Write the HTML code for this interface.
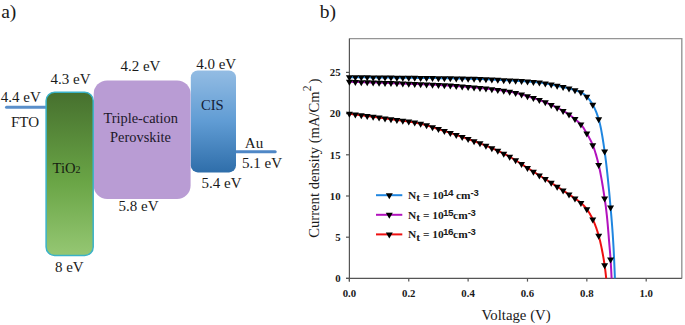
<!DOCTYPE html>
<html><head><meta charset="utf-8"><style>
html,body{margin:0;padding:0;background:#fff;}
svg{display:block;}
text{font-family:"Liberation Serif", serif;}
</style></head><body>
<svg width="685" height="325" viewBox="0 0 685 325">
<defs>
<linearGradient id="gT" x1="0" y1="0" x2="0" y2="1">
<stop offset="0" stop-color="#46702e"/><stop offset="0.55" stop-color="#6aa546"/><stop offset="1" stop-color="#95c773"/>
</linearGradient>
<linearGradient id="gC" x1="0" y1="0" x2="0" y2="1">
<stop offset="0" stop-color="#93bce3"/><stop offset="0.5" stop-color="#609cd4"/><stop offset="1" stop-color="#2f6eaa"/>
</linearGradient>
<path id="tri" d="M-3.5,-2 L3.5,-2 L0,4 Z" fill="#000"/>
</defs>
<g fill="#1a1a1a" font-size="19.5"><text x="1.2" y="18.2">a)</text><text x="319.8" y="18.4">b)</text></g>
<!-- band diagram -->
<line x1="6.5" y1="107.3" x2="47" y2="107.3" stroke="#5a8fca" stroke-width="3" stroke-linecap="round"/>
<line x1="236" y1="151.8" x2="275.2" y2="151.8" stroke="#4f87c6" stroke-width="3" stroke-linecap="round"/>
<rect x="93.7" y="80.4" width="96.9" height="118.6" rx="13.5" fill="#b99cd4"/>
<rect x="46.1" y="92.2" width="47.1" height="163.2" rx="8.5" fill="url(#gT)" stroke="#3ab2c8" stroke-width="1.5"/>
<rect x="190.8" y="70.5" width="45.2" height="101.9" rx="7" fill="url(#gC)"/>
<g font-size="15" fill="#1a1a1a">
<text x="0.8" y="101.6">4.4 eV</text>
<text x="11" y="126.5">FTO</text>
<text x="50.5" y="83.7">4.3 eV</text>
<text x="54.9" y="272">8 eV</text>
<text x="120.4" y="71">4.2 eV</text>
<text x="118.5" y="211.3">5.8 eV</text>
<text x="196.2" y="68.5">4.0 eV</text>
<text x="201.6" y="188">5.4 eV</text>
<text x="242.1" y="168.2">5.1 eV</text>
<text x="244.8" y="147.9">Au</text>
</g>
<text x="52.6" y="172.6" font-size="14.6" fill="#152010">TiO<tspan font-size="10" dy="0.6">2</tspan></text>
<g font-size="14.4" fill="#20182a" text-anchor="middle">
<text x="140.7" y="122.9">Triple-cation</text>
<text x="140.5" y="141.5">Perovskite</text>
</g>
<text x="212.3" y="109.7" font-size="14.6" fill="#142036" text-anchor="middle">CIS</text>
<!-- chart -->
<path d="M349.4,38.6 H681.8 V278.4" fill="none" stroke="#959595" stroke-width="1.4"/>
<g stroke="#555" stroke-width="1.2">
<line x1="349.4" y1="38.6" x2="349.4" y2="281.6"/><line x1="346" y1="278.4" x2="681.8" y2="278.4"/>
<line x1="349.40" y1="278.4" x2="349.40" y2="281.6"/><line x1="408.76" y1="278.4" x2="408.76" y2="281.6"/><line x1="468.12" y1="278.4" x2="468.12" y2="281.6"/><line x1="527.48" y1="278.4" x2="527.48" y2="281.6"/><line x1="586.84" y1="278.4" x2="586.84" y2="281.6"/><line x1="646.20" y1="278.4" x2="646.20" y2="281.6"/><line x1="346" y1="278.40" x2="349.4" y2="278.40"/><line x1="346" y1="237.20" x2="349.4" y2="237.20"/><line x1="346" y1="196.00" x2="349.4" y2="196.00"/><line x1="346" y1="154.80" x2="349.4" y2="154.80"/><line x1="346" y1="113.60" x2="349.4" y2="113.60"/><line x1="346" y1="72.40" x2="349.4" y2="72.40"/>
</g>
<g font-size="10.8" font-weight="bold" fill="#1a1a1a" text-anchor="middle"><text x="349.40" y="297">0.0</text><text x="408.76" y="297">0.2</text><text x="468.12" y="297">0.4</text><text x="527.48" y="297">0.6</text><text x="586.84" y="297">0.8</text><text x="646.20" y="297">1.0</text></g>
<g font-size="10.8" font-weight="bold" fill="#1a1a1a" text-anchor="end"><text x="340.6" y="282.10">0</text><text x="340.6" y="240.90">5</text><text x="340.6" y="199.70">10</text><text x="340.6" y="158.50">15</text><text x="340.6" y="117.30">20</text><text x="340.6" y="76.10">25</text></g>
<text x="516.1" y="319.7" font-size="14.8" fill="#1a1a1a" text-anchor="middle">Voltage (V)</text>
<g fill="#1a1a1a"><text transform="translate(319,237.8) rotate(-90)" font-size="14.66">Current density (mA/Cm</text><text transform="translate(311.4,91.2) rotate(-90)" font-size="11.5">2</text><text transform="translate(319,83.6) rotate(-90)" font-size="15">)</text></g>
<path d="M349.40,113.80 L349.83,113.85 L350.26,113.90 L350.69,113.95 L351.11,114.01 L351.54,114.06 L351.97,114.11 L352.40,114.16 L352.83,114.21 L353.26,114.26 L353.69,114.32 L354.12,114.37 L354.54,114.42 L354.97,114.47 L355.40,114.53 L355.83,114.58 L356.26,114.63 L356.69,114.68 L357.12,114.74 L357.55,114.79 L357.97,114.84 L358.40,114.90 L358.83,114.95 L359.26,115.00 L359.69,115.06 L360.12,115.11 L360.55,115.16 L360.98,115.22 L361.40,115.27 L361.83,115.33 L362.26,115.38 L362.69,115.43 L363.12,115.49 L363.55,115.54 L363.98,115.60 L364.41,115.65 L364.83,115.71 L365.26,115.76 L365.69,115.82 L366.12,115.87 L366.55,115.93 L366.98,115.98 L367.41,116.04 L367.83,116.09 L368.26,116.15 L368.69,116.20 L369.12,116.26 L369.55,116.31 L369.98,116.37 L370.41,116.43 L370.84,116.48 L371.26,116.54 L371.69,116.59 L372.12,116.65 L372.55,116.71 L372.98,116.76 L373.41,116.82 L373.84,116.88 L374.27,116.93 L374.69,116.99 L375.12,117.05 L375.55,117.10 L375.98,117.16 L376.41,117.22 L376.84,117.27 L377.27,117.33 L377.70,117.39 L378.12,117.45 L378.55,117.50 L378.98,117.56 L379.41,117.62 L379.84,117.68 L380.27,117.73 L380.70,117.79 L381.12,117.85 L381.55,117.91 L381.98,117.97 L382.41,118.02 L382.84,118.08 L383.27,118.14 L383.70,118.20 L384.13,118.26 L384.55,118.32 L384.98,118.38 L385.41,118.43 L385.84,118.49 L386.27,118.55 L386.70,118.61 L387.13,118.67 L387.56,118.73 L387.98,118.79 L388.41,118.85 L388.84,118.91 L389.27,118.96 L389.70,119.02 L390.13,119.08 L390.56,119.14 L390.99,119.20 L391.41,119.25 L391.84,119.31 L392.27,119.37 L392.70,119.42 L393.13,119.48 L393.56,119.54 L393.99,119.59 L394.42,119.65 L394.84,119.70 L395.27,119.76 L395.70,119.82 L396.13,119.87 L396.56,119.93 L396.99,119.98 L397.42,120.04 L397.84,120.09 L398.27,120.15 L398.70,120.21 L399.13,120.26 L399.56,120.32 L399.99,120.37 L400.42,120.43 L400.85,120.49 L401.27,120.54 L401.70,120.60 L402.13,120.66 L402.56,120.72 L402.99,120.77 L403.42,120.83 L403.85,120.89 L404.28,120.95 L404.70,121.01 L405.13,121.07 L405.56,121.13 L405.99,121.19 L406.42,121.25 L406.85,121.32 L407.28,121.38 L407.71,121.44 L408.13,121.51 L408.56,121.57 L408.99,121.63 L409.42,121.70 L409.85,121.77 L410.28,121.83 L410.71,121.90 L411.13,121.97 L411.56,122.04 L411.99,122.11 L412.42,122.18 L412.85,122.26 L413.28,122.33 L413.71,122.40 L414.14,122.48 L414.56,122.55 L414.99,122.63 L415.42,122.71 L415.85,122.79 L416.28,122.87 L416.71,122.95 L417.14,123.03 L417.57,123.11 L417.99,123.20 L418.42,123.29 L418.85,123.37 L419.28,123.47 L419.71,123.56 L420.14,123.66 L420.57,123.76 L421.00,123.86 L421.42,123.96 L421.85,124.07 L422.28,124.18 L422.71,124.29 L423.14,124.40 L423.57,124.51 L424.00,124.63 L424.43,124.74 L424.85,124.86 L425.28,124.99 L425.71,125.11 L426.14,125.23 L426.57,125.36 L427.00,125.48 L427.43,125.61 L427.85,125.74 L428.28,125.87 L428.71,126.00 L429.14,126.13 L429.57,126.27 L430.00,126.40 L430.43,126.54 L430.86,126.67 L431.28,126.81 L431.71,126.94 L432.14,127.08 L432.57,127.22 L433.00,127.36 L433.43,127.50 L433.86,127.63 L434.29,127.77 L434.71,127.91 L435.14,128.05 L435.57,128.19 L436.00,128.33 L436.43,128.47 L436.86,128.60 L437.29,128.74 L437.72,128.88 L438.14,129.02 L438.57,129.15 L439.00,129.29 L439.43,129.42 L439.86,129.56 L440.29,129.69 L440.72,129.82 L441.14,129.96 L441.57,130.09 L442.00,130.23 L442.43,130.36 L442.86,130.50 L443.29,130.64 L443.72,130.78 L444.15,130.91 L444.57,131.05 L445.00,131.19 L445.43,131.33 L445.86,131.47 L446.29,131.61 L446.72,131.75 L447.15,131.89 L447.58,132.03 L448.00,132.17 L448.43,132.31 L448.86,132.46 L449.29,132.60 L449.72,132.74 L450.15,132.88 L450.58,133.03 L451.01,133.17 L451.43,133.32 L451.86,133.46 L452.29,133.61 L452.72,133.75 L453.15,133.90 L453.58,134.04 L454.01,134.19 L454.44,134.33 L454.86,134.48 L455.29,134.63 L455.72,134.77 L456.15,134.92 L456.58,135.07 L457.01,135.22 L457.44,135.37 L457.86,135.51 L458.29,135.66 L458.72,135.81 L459.15,135.96 L459.58,136.11 L460.01,136.26 L460.44,136.41 L460.87,136.55 L461.29,136.70 L461.72,136.85 L462.15,137.00 L462.58,137.15 L463.01,137.30 L463.44,137.45 L463.87,137.60 L464.30,137.75 L464.72,137.90 L465.15,138.05 L465.58,138.20 L466.01,138.35 L466.44,138.50 L466.87,138.65 L467.30,138.80 L467.73,138.95 L468.15,139.10 L468.58,139.25 L469.01,139.40 L469.44,139.55 L469.87,139.70 L470.30,139.85 L470.73,140.00 L471.15,140.15 L471.58,140.30 L472.01,140.45 L472.44,140.60 L472.87,140.76 L473.30,140.91 L473.73,141.06 L474.16,141.22 L474.58,141.37 L475.01,141.52 L475.44,141.68 L475.87,141.83 L476.30,141.99 L476.73,142.15 L477.16,142.30 L477.59,142.46 L478.01,142.62 L478.44,142.78 L478.87,142.94 L479.30,143.10 L479.73,143.26 L480.16,143.42 L480.59,143.59 L481.02,143.75 L481.44,143.91 L481.87,144.08 L482.30,144.24 L482.73,144.41 L483.16,144.58 L483.59,144.75 L484.02,144.92 L484.45,145.09 L484.87,145.26 L485.30,145.43 L485.73,145.61 L486.16,145.78 L486.59,145.96 L487.02,146.14 L487.45,146.31 L487.87,146.49 L488.30,146.67 L488.73,146.85 L489.16,147.03 L489.59,147.21 L490.02,147.39 L490.45,147.57 L490.88,147.76 L491.30,147.94 L491.73,148.13 L492.16,148.31 L492.59,148.50 L493.02,148.68 L493.45,148.87 L493.88,149.06 L494.31,149.25 L494.73,149.44 L495.16,149.63 L495.59,149.82 L496.02,150.02 L496.45,150.21 L496.88,150.41 L497.31,150.60 L497.74,150.80 L498.16,151.00 L498.59,151.20 L499.02,151.40 L499.45,151.60 L499.88,151.80 L500.31,152.01 L500.74,152.21 L501.16,152.42 L501.59,152.62 L502.02,152.83 L502.45,153.04 L502.88,153.25 L503.31,153.46 L503.74,153.68 L504.17,153.89 L504.59,154.11 L505.02,154.32 L505.45,154.54 L505.88,154.76 L506.31,154.98 L506.74,155.20 L507.17,155.42 L507.60,155.65 L508.02,155.87 L508.45,156.10 L508.88,156.33 L509.31,156.56 L509.74,156.79 L510.17,157.03 L510.60,157.27 L511.03,157.51 L511.45,157.76 L511.88,158.01 L512.31,158.26 L512.74,158.51 L513.17,158.77 L513.60,159.03 L514.03,159.29 L514.46,159.55 L514.88,159.82 L515.31,160.08 L515.74,160.35 L516.17,160.62 L516.60,160.90 L517.03,161.17 L517.46,161.45 L517.88,161.72 L518.31,162.00 L518.74,162.28 L519.17,162.56 L519.60,162.84 L520.03,163.12 L520.46,163.40 L520.89,163.68 L521.31,163.96 L521.74,164.24 L522.17,164.52 L522.60,164.81 L523.03,165.09 L523.46,165.37 L523.89,165.65 L524.32,165.93 L524.74,166.21 L525.17,166.49 L525.60,166.76 L526.03,167.04 L526.46,167.31 L526.89,167.59 L527.32,167.86 L527.75,168.13 L528.17,168.40 L528.60,168.67 L529.03,168.94 L529.46,169.21 L529.89,169.47 L530.32,169.74 L530.75,170.01 L531.17,170.28 L531.60,170.55 L532.03,170.82 L532.46,171.09 L532.89,171.35 L533.32,171.62 L533.75,171.89 L534.18,172.16 L534.60,172.43 L535.03,172.69 L535.46,172.96 L535.89,173.23 L536.32,173.50 L536.75,173.77 L537.18,174.03 L537.61,174.30 L538.03,174.57 L538.46,174.84 L538.89,175.11 L539.32,175.38 L539.75,175.64 L540.18,175.91 L540.61,176.18 L541.04,176.45 L541.46,176.72 L541.89,176.99 L542.32,177.25 L542.75,177.52 L543.18,177.79 L543.61,178.06 L544.04,178.33 L544.47,178.60 L544.89,178.87 L545.32,179.14 L545.75,179.41 L546.18,179.68 L546.61,179.95 L547.04,180.22 L547.47,180.49 L547.89,180.76 L548.32,181.03 L548.75,181.30 L549.18,181.58 L549.61,181.85 L550.04,182.12 L550.47,182.39 L550.90,182.66 L551.32,182.94 L551.75,183.21 L552.18,183.48 L552.61,183.76 L553.04,184.03 L553.47,184.30 L553.90,184.58 L554.33,184.85 L554.75,185.13 L555.18,185.40 L555.61,185.68 L556.04,185.96 L556.47,186.23 L556.90,186.51 L557.33,186.79 L557.76,187.07 L558.18,187.34 L558.61,187.62 L559.04,187.90 L559.47,188.18 L559.90,188.46 L560.33,188.73 L560.76,189.01 L561.18,189.29 L561.61,189.57 L562.04,189.85 L562.47,190.13 L562.90,190.41 L563.33,190.70 L563.76,190.98 L564.19,191.26 L564.61,191.55 L565.04,191.83 L565.47,192.12 L565.90,192.40 L566.33,192.69 L566.76,192.98 L567.19,193.27 L567.62,193.56 L568.04,193.85 L568.47,194.14 L568.90,194.43 L569.33,194.73 L569.76,195.02 L570.19,195.30 L570.62,195.59 L571.05,195.87 L571.47,196.15 L571.90,196.43 L572.33,196.71 L572.76,196.99 L573.19,197.27 L573.62,197.55 L574.05,197.83 L574.48,198.12 L574.90,198.40 L575.33,198.69 L575.76,198.98 L576.19,199.28 L576.62,199.58 L577.05,199.88 L577.48,200.19 L577.90,200.50 L578.33,200.82 L578.76,201.15 L579.19,201.48 L579.62,201.82 L580.05,202.17 L580.48,202.53 L580.91,202.89 L581.33,203.26 L581.76,203.65 L582.19,204.04 L582.62,204.45 L583.05,204.87 L583.48,205.31 L583.91,205.76 L584.34,206.22 L584.76,206.70 L585.19,207.20 L585.62,207.71 L586.05,208.23 L586.48,208.78 L586.91,209.34 L587.34,209.91 L587.77,210.51 L588.19,211.13 L588.62,211.78 L589.05,212.46 L589.48,213.16 L589.91,213.88 L590.34,214.63 L590.77,215.41 L591.19,216.21 L591.62,217.03 L592.05,217.89 L592.48,218.77 L592.91,219.67 L593.34,220.60 L593.77,221.57 L594.20,222.57 L594.62,223.61 L595.05,224.69 L595.48,225.81 L595.91,226.98 L596.34,228.19 L596.77,229.46 L597.20,230.77 L597.63,232.13 L598.05,233.55 L598.48,235.03 L598.91,236.57 L599.34,238.17 L599.77,239.85 L600.20,241.61 L600.63,243.45 L601.06,245.38 L601.48,247.39 L601.91,249.49 L602.34,251.69 L602.77,253.99 L603.20,256.39 L603.63,258.89 L604.06,261.50 L604.49,264.22 L604.91,267.16 L605.34,270.63 L605.77,274.45 L606.20,278.40" fill="none" stroke="#ee1010" stroke-width="2" stroke-linejoin="round"/><path d="M349.40,81.80 L349.84,81.81 L350.28,81.82 L350.71,81.83 L351.15,81.85 L351.59,81.86 L352.03,81.87 L352.46,81.88 L352.90,81.89 L353.34,81.90 L353.78,81.92 L354.22,81.93 L354.65,81.94 L355.09,81.95 L355.53,81.96 L355.97,81.98 L356.40,81.99 L356.84,82.00 L357.28,82.01 L357.72,82.02 L358.15,82.04 L358.59,82.05 L359.03,82.06 L359.47,82.07 L359.91,82.09 L360.34,82.10 L360.78,82.11 L361.22,82.12 L361.66,82.14 L362.09,82.15 L362.53,82.16 L362.97,82.18 L363.41,82.19 L363.85,82.20 L364.28,82.21 L364.72,82.23 L365.16,82.24 L365.60,82.25 L366.03,82.27 L366.47,82.28 L366.91,82.29 L367.35,82.31 L367.78,82.32 L368.22,82.33 L368.66,82.35 L369.10,82.36 L369.54,82.38 L369.97,82.39 L370.41,82.40 L370.85,82.42 L371.29,82.43 L371.72,82.44 L372.16,82.46 L372.60,82.47 L373.04,82.49 L373.48,82.50 L373.91,82.51 L374.35,82.53 L374.79,82.54 L375.23,82.56 L375.66,82.57 L376.10,82.58 L376.54,82.60 L376.98,82.61 L377.41,82.63 L377.85,82.64 L378.29,82.66 L378.73,82.67 L379.17,82.69 L379.60,82.70 L380.04,82.72 L380.48,82.73 L380.92,82.74 L381.35,82.76 L381.79,82.77 L382.23,82.79 L382.67,82.80 L383.11,82.82 L383.54,82.83 L383.98,82.85 L384.42,82.86 L384.86,82.88 L385.29,82.89 L385.73,82.91 L386.17,82.92 L386.61,82.94 L387.04,82.95 L387.48,82.97 L387.92,82.99 L388.36,83.00 L388.80,83.02 L389.23,83.03 L389.67,83.05 L390.11,83.06 L390.55,83.08 L390.98,83.09 L391.42,83.11 L391.86,83.13 L392.30,83.14 L392.74,83.16 L393.17,83.17 L393.61,83.19 L394.05,83.20 L394.49,83.22 L394.92,83.24 L395.36,83.25 L395.80,83.27 L396.24,83.28 L396.67,83.30 L397.11,83.32 L397.55,83.33 L397.99,83.35 L398.43,83.36 L398.86,83.38 L399.30,83.40 L399.74,83.41 L400.18,83.43 L400.61,83.44 L401.05,83.46 L401.49,83.48 L401.93,83.49 L402.37,83.51 L402.80,83.53 L403.24,83.54 L403.68,83.56 L404.12,83.58 L404.55,83.59 L404.99,83.61 L405.43,83.63 L405.87,83.64 L406.30,83.66 L406.74,83.68 L407.18,83.69 L407.62,83.71 L408.06,83.73 L408.49,83.74 L408.93,83.76 L409.37,83.78 L409.81,83.79 L410.24,83.81 L410.68,83.83 L411.12,83.84 L411.56,83.86 L412.00,83.88 L412.43,83.89 L412.87,83.91 L413.31,83.93 L413.75,83.94 L414.18,83.96 L414.62,83.98 L415.06,83.99 L415.50,84.01 L415.93,84.03 L416.37,84.05 L416.81,84.06 L417.25,84.08 L417.69,84.10 L418.12,84.11 L418.56,84.13 L419.00,84.15 L419.44,84.17 L419.87,84.18 L420.31,84.20 L420.75,84.22 L421.19,84.23 L421.63,84.25 L422.06,84.27 L422.50,84.29 L422.94,84.30 L423.38,84.32 L423.81,84.34 L424.25,84.36 L424.69,84.38 L425.13,84.39 L425.56,84.41 L426.00,84.43 L426.44,84.45 L426.88,84.47 L427.32,84.48 L427.75,84.50 L428.19,84.52 L428.63,84.54 L429.07,84.56 L429.50,84.58 L429.94,84.60 L430.38,84.61 L430.82,84.63 L431.26,84.65 L431.69,84.67 L432.13,84.69 L432.57,84.71 L433.01,84.73 L433.44,84.75 L433.88,84.77 L434.32,84.79 L434.76,84.81 L435.19,84.83 L435.63,84.85 L436.07,84.87 L436.51,84.89 L436.95,84.91 L437.38,84.93 L437.82,84.95 L438.26,84.97 L438.70,85.00 L439.13,85.02 L439.57,85.04 L440.01,85.06 L440.45,85.08 L440.89,85.10 L441.32,85.13 L441.76,85.15 L442.20,85.17 L442.64,85.19 L443.07,85.22 L443.51,85.24 L443.95,85.26 L444.39,85.29 L444.83,85.31 L445.26,85.33 L445.70,85.36 L446.14,85.38 L446.58,85.40 L447.01,85.43 L447.45,85.45 L447.89,85.48 L448.33,85.50 L448.76,85.53 L449.20,85.55 L449.64,85.58 L450.08,85.60 L450.52,85.63 L450.95,85.66 L451.39,85.68 L451.83,85.71 L452.27,85.74 L452.70,85.76 L453.14,85.79 L453.58,85.82 L454.02,85.85 L454.46,85.88 L454.89,85.91 L455.33,85.93 L455.77,85.96 L456.21,85.99 L456.64,86.02 L457.08,86.05 L457.52,86.08 L457.96,86.11 L458.39,86.14 L458.83,86.18 L459.27,86.21 L459.71,86.24 L460.15,86.27 L460.58,86.30 L461.02,86.33 L461.46,86.37 L461.90,86.40 L462.33,86.43 L462.77,86.47 L463.21,86.50 L463.65,86.53 L464.09,86.57 L464.52,86.60 L464.96,86.64 L465.40,86.67 L465.84,86.71 L466.27,86.74 L466.71,86.78 L467.15,86.81 L467.59,86.85 L468.02,86.89 L468.46,86.92 L468.90,86.96 L469.34,87.00 L469.78,87.03 L470.21,87.07 L470.65,87.11 L471.09,87.15 L471.53,87.19 L471.96,87.22 L472.40,87.26 L472.84,87.30 L473.28,87.34 L473.72,87.38 L474.15,87.42 L474.59,87.46 L475.03,87.50 L475.47,87.54 L475.90,87.58 L476.34,87.62 L476.78,87.66 L477.22,87.70 L477.65,87.74 L478.09,87.79 L478.53,87.83 L478.97,87.87 L479.41,87.91 L479.84,87.95 L480.28,88.00 L480.72,88.04 L481.16,88.08 L481.59,88.13 L482.03,88.17 L482.47,88.21 L482.91,88.26 L483.35,88.30 L483.78,88.35 L484.22,88.39 L484.66,88.44 L485.10,88.48 L485.53,88.53 L485.97,88.57 L486.41,88.62 L486.85,88.66 L487.28,88.71 L487.72,88.76 L488.16,88.80 L488.60,88.85 L489.04,88.90 L489.47,88.94 L489.91,88.99 L490.35,89.04 L490.79,89.09 L491.22,89.13 L491.66,89.18 L492.10,89.23 L492.54,89.28 L492.98,89.33 L493.41,89.38 L493.85,89.43 L494.29,89.48 L494.73,89.53 L495.16,89.58 L495.60,89.64 L496.04,89.69 L496.48,89.74 L496.91,89.80 L497.35,89.85 L497.79,89.91 L498.23,89.96 L498.67,90.02 L499.10,90.07 L499.54,90.13 L499.98,90.19 L500.42,90.25 L500.85,90.31 L501.29,90.37 L501.73,90.43 L502.17,90.49 L502.61,90.55 L503.04,90.61 L503.48,90.68 L503.92,90.74 L504.36,90.81 L504.79,90.87 L505.23,90.94 L505.67,91.01 L506.11,91.08 L506.54,91.15 L506.98,91.22 L507.42,91.29 L507.86,91.36 L508.30,91.43 L508.73,91.51 L509.17,91.58 L509.61,91.66 L510.05,91.74 L510.48,91.81 L510.92,91.89 L511.36,91.97 L511.80,92.06 L512.24,92.14 L512.67,92.23 L513.11,92.32 L513.55,92.41 L513.99,92.51 L514.42,92.61 L514.86,92.71 L515.30,92.81 L515.74,92.91 L516.17,93.02 L516.61,93.13 L517.05,93.24 L517.49,93.36 L517.93,93.47 L518.36,93.59 L518.80,93.71 L519.24,93.83 L519.68,93.95 L520.11,94.07 L520.55,94.19 L520.99,94.32 L521.43,94.44 L521.87,94.57 L522.30,94.70 L522.74,94.83 L523.18,94.95 L523.62,95.08 L524.05,95.21 L524.49,95.34 L524.93,95.47 L525.37,95.60 L525.81,95.74 L526.24,95.87 L526.68,96.00 L527.12,96.13 L527.56,96.26 L527.99,96.39 L528.43,96.52 L528.87,96.65 L529.31,96.78 L529.74,96.91 L530.18,97.05 L530.62,97.18 L531.06,97.32 L531.50,97.45 L531.93,97.59 L532.37,97.72 L532.81,97.86 L533.25,98.00 L533.68,98.14 L534.12,98.28 L534.56,98.42 L535.00,98.57 L535.44,98.71 L535.87,98.86 L536.31,99.00 L536.75,99.15 L537.19,99.30 L537.62,99.45 L538.06,99.60 L538.50,99.75 L538.94,99.90 L539.37,100.06 L539.81,100.22 L540.25,100.37 L540.69,100.53 L541.13,100.69 L541.56,100.85 L542.00,101.02 L542.44,101.18 L542.88,101.35 L543.31,101.51 L543.75,101.68 L544.19,101.85 L544.63,102.03 L545.07,102.20 L545.50,102.38 L545.94,102.56 L546.38,102.75 L546.82,102.93 L547.25,103.12 L547.69,103.31 L548.13,103.50 L548.57,103.70 L549.00,103.89 L549.44,104.09 L549.88,104.29 L550.32,104.49 L550.76,104.70 L551.19,104.90 L551.63,105.10 L552.07,105.31 L552.51,105.52 L552.94,105.73 L553.38,105.94 L553.82,106.15 L554.26,106.36 L554.70,106.57 L555.13,106.79 L555.57,107.00 L556.01,107.21 L556.45,107.43 L556.88,107.64 L557.32,107.86 L557.76,108.07 L558.20,108.29 L558.63,108.51 L559.07,108.73 L559.51,108.96 L559.95,109.18 L560.39,109.41 L560.82,109.64 L561.26,109.88 L561.70,110.11 L562.14,110.35 L562.57,110.59 L563.01,110.84 L563.45,111.09 L563.89,111.34 L564.33,111.59 L564.76,111.85 L565.20,112.11 L565.64,112.37 L566.08,112.64 L566.51,112.91 L566.95,113.18 L567.39,113.46 L567.83,113.75 L568.26,114.04 L568.70,114.33 L569.14,114.63 L569.58,114.93 L570.02,115.24 L570.45,115.56 L570.89,115.88 L571.33,116.21 L571.77,116.54 L572.20,116.88 L572.64,117.22 L573.08,117.57 L573.52,117.92 L573.96,118.27 L574.39,118.63 L574.83,118.99 L575.27,119.36 L575.71,119.72 L576.14,120.08 L576.58,120.44 L577.02,120.81 L577.46,121.17 L577.89,121.54 L578.33,121.92 L578.77,122.31 L579.21,122.72 L579.65,123.13 L580.08,123.57 L580.52,124.02 L580.96,124.50 L581.40,125.00 L581.83,125.53 L582.27,126.10 L582.71,126.72 L583.15,127.36 L583.59,128.04 L584.02,128.74 L584.46,129.46 L584.90,130.19 L585.34,130.95 L585.77,131.71 L586.21,132.47 L586.65,133.24 L587.09,134.00 L587.52,134.76 L587.96,135.52 L588.40,136.29 L588.84,137.07 L589.28,137.87 L589.71,138.68 L590.15,139.51 L590.59,140.37 L591.03,141.26 L591.46,142.18 L591.90,143.14 L592.34,144.15 L592.78,145.20 L593.22,146.30 L593.65,147.46 L594.09,148.68 L594.53,149.96 L594.97,151.30 L595.40,152.69 L595.84,154.15 L596.28,155.65 L596.72,157.22 L597.15,158.84 L597.59,160.52 L598.03,162.25 L598.47,164.03 L598.91,165.88 L599.34,167.83 L599.78,169.89 L600.22,172.06 L600.66,174.32 L601.09,176.67 L601.53,179.11 L601.97,181.64 L602.41,184.23 L602.85,186.90 L603.28,189.63 L603.72,192.42 L604.16,195.26 L604.60,198.14 L605.03,201.10 L605.47,204.20 L605.91,207.49 L606.35,211.03 L606.78,214.86 L607.22,219.15 L607.66,223.93 L608.10,229.07 L608.54,234.42 L608.97,239.82 L609.41,245.14 L609.85,250.19 L610.29,255.45 L610.72,261.74 L611.16,269.48 L611.60,278.40" fill="none" stroke="#b212bd" stroke-width="2" stroke-linejoin="round"/><path d="M349.40,77.20 L349.84,77.20 L350.29,77.21 L350.73,77.21 L351.17,77.21 L351.62,77.22 L352.06,77.22 L352.50,77.22 L352.95,77.23 L353.39,77.23 L353.83,77.23 L354.28,77.24 L354.72,77.24 L355.16,77.24 L355.61,77.25 L356.05,77.25 L356.49,77.25 L356.94,77.26 L357.38,77.26 L357.82,77.27 L358.26,77.27 L358.71,77.27 L359.15,77.28 L359.59,77.28 L360.04,77.28 L360.48,77.29 L360.92,77.29 L361.37,77.29 L361.81,77.30 L362.25,77.30 L362.70,77.31 L363.14,77.31 L363.58,77.31 L364.03,77.32 L364.47,77.32 L364.91,77.33 L365.36,77.33 L365.80,77.33 L366.24,77.34 L366.69,77.34 L367.13,77.35 L367.57,77.35 L368.02,77.35 L368.46,77.36 L368.90,77.36 L369.35,77.37 L369.79,77.37 L370.23,77.37 L370.68,77.38 L371.12,77.38 L371.56,77.39 L372.01,77.39 L372.45,77.39 L372.89,77.40 L373.33,77.40 L373.78,77.41 L374.22,77.41 L374.66,77.42 L375.11,77.42 L375.55,77.42 L375.99,77.43 L376.44,77.43 L376.88,77.44 L377.32,77.44 L377.77,77.45 L378.21,77.45 L378.65,77.45 L379.10,77.46 L379.54,77.46 L379.98,77.47 L380.43,77.47 L380.87,77.48 L381.31,77.48 L381.76,77.49 L382.20,77.49 L382.64,77.50 L383.09,77.50 L383.53,77.50 L383.97,77.51 L384.42,77.51 L384.86,77.52 L385.30,77.52 L385.75,77.53 L386.19,77.53 L386.63,77.54 L387.08,77.54 L387.52,77.55 L387.96,77.55 L388.41,77.56 L388.85,77.56 L389.29,77.56 L389.73,77.57 L390.18,77.57 L390.62,77.58 L391.06,77.58 L391.51,77.59 L391.95,77.59 L392.39,77.60 L392.84,77.60 L393.28,77.61 L393.72,77.61 L394.17,77.62 L394.61,77.62 L395.05,77.63 L395.50,77.63 L395.94,77.64 L396.38,77.64 L396.83,77.65 L397.27,77.65 L397.71,77.66 L398.16,77.66 L398.60,77.67 L399.04,77.67 L399.49,77.68 L399.93,77.68 L400.37,77.69 L400.82,77.69 L401.26,77.70 L401.70,77.70 L402.15,77.71 L402.59,77.71 L403.03,77.72 L403.48,77.72 L403.92,77.73 L404.36,77.73 L404.80,77.74 L405.25,77.74 L405.69,77.75 L406.13,77.75 L406.58,77.76 L407.02,77.76 L407.46,77.77 L407.91,77.78 L408.35,77.78 L408.79,77.79 L409.24,77.79 L409.68,77.80 L410.12,77.80 L410.57,77.81 L411.01,77.81 L411.45,77.82 L411.90,77.82 L412.34,77.83 L412.78,77.83 L413.23,77.84 L413.67,77.84 L414.11,77.85 L414.56,77.85 L415.00,77.86 L415.44,77.86 L415.89,77.87 L416.33,77.87 L416.77,77.88 L417.22,77.88 L417.66,77.89 L418.10,77.90 L418.55,77.90 L418.99,77.91 L419.43,77.91 L419.87,77.92 L420.32,77.92 L420.76,77.93 L421.20,77.93 L421.65,77.94 L422.09,77.94 L422.53,77.95 L422.98,77.95 L423.42,77.96 L423.86,77.96 L424.31,77.97 L424.75,77.97 L425.19,77.98 L425.64,77.98 L426.08,77.99 L426.52,77.99 L426.97,78.00 L427.41,78.00 L427.85,78.01 L428.30,78.02 L428.74,78.02 L429.18,78.03 L429.63,78.03 L430.07,78.04 L430.51,78.04 L430.96,78.05 L431.40,78.05 L431.84,78.06 L432.29,78.06 L432.73,78.07 L433.17,78.08 L433.62,78.08 L434.06,78.09 L434.50,78.09 L434.95,78.10 L435.39,78.10 L435.83,78.11 L436.27,78.12 L436.72,78.12 L437.16,78.13 L437.60,78.13 L438.05,78.14 L438.49,78.14 L438.93,78.15 L439.38,78.16 L439.82,78.16 L440.26,78.17 L440.71,78.18 L441.15,78.18 L441.59,78.19 L442.04,78.19 L442.48,78.20 L442.92,78.21 L443.37,78.21 L443.81,78.22 L444.25,78.23 L444.70,78.23 L445.14,78.24 L445.58,78.25 L446.03,78.25 L446.47,78.26 L446.91,78.27 L447.36,78.27 L447.80,78.28 L448.24,78.29 L448.69,78.29 L449.13,78.30 L449.57,78.31 L450.02,78.31 L450.46,78.32 L450.90,78.33 L451.34,78.34 L451.79,78.34 L452.23,78.35 L452.67,78.36 L453.12,78.36 L453.56,78.37 L454.00,78.38 L454.45,78.39 L454.89,78.40 L455.33,78.40 L455.78,78.41 L456.22,78.42 L456.66,78.43 L457.11,78.43 L457.55,78.44 L457.99,78.45 L458.44,78.46 L458.88,78.47 L459.32,78.48 L459.77,78.48 L460.21,78.49 L460.65,78.50 L461.10,78.51 L461.54,78.52 L461.98,78.53 L462.43,78.54 L462.87,78.55 L463.31,78.55 L463.76,78.56 L464.20,78.57 L464.64,78.58 L465.09,78.59 L465.53,78.60 L465.97,78.61 L466.42,78.62 L466.86,78.63 L467.30,78.64 L467.74,78.65 L468.19,78.66 L468.63,78.67 L469.07,78.68 L469.52,78.69 L469.96,78.70 L470.40,78.71 L470.85,78.72 L471.29,78.73 L471.73,78.74 L472.18,78.75 L472.62,78.77 L473.06,78.78 L473.51,78.79 L473.95,78.80 L474.39,78.82 L474.84,78.83 L475.28,78.84 L475.72,78.86 L476.17,78.87 L476.61,78.89 L477.05,78.90 L477.50,78.92 L477.94,78.93 L478.38,78.95 L478.83,78.96 L479.27,78.98 L479.71,79.00 L480.16,79.01 L480.60,79.03 L481.04,79.05 L481.49,79.07 L481.93,79.08 L482.37,79.10 L482.81,79.12 L483.26,79.14 L483.70,79.16 L484.14,79.17 L484.59,79.19 L485.03,79.21 L485.47,79.23 L485.92,79.25 L486.36,79.27 L486.80,79.29 L487.25,79.31 L487.69,79.33 L488.13,79.35 L488.58,79.37 L489.02,79.39 L489.46,79.41 L489.91,79.43 L490.35,79.45 L490.79,79.47 L491.24,79.50 L491.68,79.52 L492.12,79.54 L492.57,79.56 L493.01,79.58 L493.45,79.60 L493.90,79.63 L494.34,79.65 L494.78,79.67 L495.23,79.69 L495.67,79.71 L496.11,79.74 L496.56,79.76 L497.00,79.78 L497.44,79.80 L497.88,79.83 L498.33,79.85 L498.77,79.87 L499.21,79.90 L499.66,79.92 L500.10,79.94 L500.54,79.97 L500.99,79.99 L501.43,80.01 L501.87,80.04 L502.32,80.06 L502.76,80.08 L503.20,80.11 L503.65,80.13 L504.09,80.15 L504.53,80.18 L504.98,80.20 L505.42,80.22 L505.86,80.25 L506.31,80.27 L506.75,80.29 L507.19,80.32 L507.64,80.34 L508.08,80.36 L508.52,80.38 L508.97,80.41 L509.41,80.43 L509.85,80.45 L510.30,80.48 L510.74,80.50 L511.18,80.52 L511.63,80.55 L512.07,80.57 L512.51,80.59 L512.96,80.62 L513.40,80.64 L513.84,80.66 L514.28,80.69 L514.73,80.71 L515.17,80.74 L515.61,80.76 L516.06,80.79 L516.50,80.81 L516.94,80.84 L517.39,80.86 L517.83,80.89 L518.27,80.91 L518.72,80.94 L519.16,80.96 L519.60,80.99 L520.05,81.01 L520.49,81.04 L520.93,81.07 L521.38,81.10 L521.82,81.12 L522.26,81.15 L522.71,81.18 L523.15,81.21 L523.59,81.23 L524.04,81.26 L524.48,81.29 L524.92,81.32 L525.37,81.35 L525.81,81.38 L526.25,81.41 L526.70,81.44 L527.14,81.48 L527.58,81.51 L528.03,81.54 L528.47,81.57 L528.91,81.61 L529.35,81.64 L529.80,81.67 L530.24,81.71 L530.68,81.74 L531.13,81.78 L531.57,81.81 L532.01,81.85 L532.46,81.89 L532.90,81.92 L533.34,81.96 L533.79,82.00 L534.23,82.04 L534.67,82.08 L535.12,82.12 L535.56,82.16 L536.00,82.20 L536.45,82.24 L536.89,82.28 L537.33,82.33 L537.78,82.37 L538.22,82.42 L538.66,82.46 L539.11,82.51 L539.55,82.55 L539.99,82.60 L540.44,82.65 L540.88,82.70 L541.32,82.76 L541.77,82.82 L542.21,82.88 L542.65,82.94 L543.10,83.01 L543.54,83.08 L543.98,83.15 L544.43,83.23 L544.87,83.31 L545.31,83.39 L545.75,83.47 L546.20,83.55 L546.64,83.64 L547.08,83.73 L547.53,83.82 L547.97,83.91 L548.41,84.00 L548.86,84.09 L549.30,84.18 L549.74,84.28 L550.19,84.37 L550.63,84.47 L551.07,84.56 L551.52,84.66 L551.96,84.76 L552.40,84.85 L552.85,84.95 L553.29,85.05 L553.73,85.14 L554.18,85.24 L554.62,85.33 L555.06,85.42 L555.51,85.52 L555.95,85.61 L556.39,85.70 L556.84,85.79 L557.28,85.88 L557.72,85.96 L558.17,86.05 L558.61,86.14 L559.05,86.23 L559.50,86.32 L559.94,86.41 L560.38,86.50 L560.82,86.59 L561.27,86.68 L561.71,86.77 L562.15,86.87 L562.60,86.96 L563.04,87.06 L563.48,87.15 L563.93,87.25 L564.37,87.35 L564.81,87.45 L565.26,87.55 L565.70,87.65 L566.14,87.75 L566.59,87.86 L567.03,87.96 L567.47,88.07 L567.92,88.18 L568.36,88.28 L568.80,88.40 L569.25,88.51 L569.69,88.62 L570.13,88.74 L570.58,88.86 L571.02,88.97 L571.46,89.09 L571.91,89.22 L572.35,89.34 L572.79,89.47 L573.24,89.60 L573.68,89.73 L574.12,89.86 L574.57,90.00 L575.01,90.14 L575.45,90.28 L575.89,90.43 L576.34,90.58 L576.78,90.73 L577.22,90.88 L577.67,91.03 L578.11,91.19 L578.55,91.35 L579.00,91.52 L579.44,91.70 L579.88,91.88 L580.33,92.08 L580.77,92.29 L581.21,92.50 L581.66,92.74 L582.10,92.99 L582.54,93.26 L582.99,93.55 L583.43,93.85 L583.87,94.17 L584.32,94.51 L584.76,94.87 L585.20,95.24 L585.65,95.63 L586.09,96.03 L586.53,96.45 L586.98,96.88 L587.42,97.32 L587.86,97.79 L588.31,98.29 L588.75,98.81 L589.19,99.37 L589.64,99.95 L590.08,100.56 L590.52,101.20 L590.97,101.86 L591.41,102.55 L591.85,103.27 L592.29,104.01 L592.74,104.79 L593.18,105.58 L593.62,106.41 L594.07,107.27 L594.51,108.17 L594.95,109.11 L595.40,110.10 L595.84,111.14 L596.28,112.23 L596.73,113.38 L597.17,114.59 L597.61,115.86 L598.06,117.20 L598.50,118.62 L598.94,120.10 L599.39,121.68 L599.83,123.42 L600.27,125.35 L600.72,127.44 L601.16,129.68 L601.60,132.07 L602.05,134.60 L602.49,137.24 L602.93,140.00 L603.38,142.85 L603.82,145.79 L604.26,148.81 L604.71,151.89 L605.15,155.12 L605.59,158.54 L606.04,162.14 L606.48,165.92 L606.92,169.86 L607.36,173.96 L607.81,178.20 L608.25,182.59 L608.69,187.10 L609.14,191.72 L609.58,196.46 L610.02,201.30 L610.47,206.24 L610.91,211.25 L611.35,216.38 L611.80,221.76 L612.24,227.49 L612.68,233.69 L613.13,240.48 L613.57,248.05 L614.01,257.09 L614.46,267.37 L614.90,278.40" fill="none" stroke="#1f86e0" stroke-width="2" stroke-linejoin="round"/>
<use href="#tri" x="349.40" y="113.80"/><use href="#tri" x="355.34" y="114.52"/><use href="#tri" x="361.27" y="115.26"/><use href="#tri" x="367.21" y="116.01"/><use href="#tri" x="373.14" y="116.79"/><use href="#tri" x="379.08" y="117.57"/><use href="#tri" x="385.02" y="118.38"/><use href="#tri" x="390.95" y="119.19"/><use href="#tri" x="396.89" y="119.97"/><use href="#tri" x="402.82" y="120.75"/><use href="#tri" x="408.76" y="121.60"/><use href="#tri" x="414.70" y="122.58"/><use href="#tri" x="420.63" y="123.77"/><use href="#tri" x="426.57" y="125.36"/><use href="#tri" x="432.50" y="127.20"/><use href="#tri" x="438.44" y="129.11"/><use href="#tri" x="444.38" y="130.99"/><use href="#tri" x="450.31" y="132.94"/><use href="#tri" x="456.25" y="134.96"/><use href="#tri" x="462.18" y="137.01"/><use href="#tri" x="468.12" y="139.09"/><use href="#tri" x="474.06" y="141.18"/><use href="#tri" x="479.99" y="143.36"/><use href="#tri" x="485.93" y="145.69"/><use href="#tri" x="491.86" y="148.18"/><use href="#tri" x="497.80" y="150.83"/><use href="#tri" x="503.74" y="153.68"/><use href="#tri" x="509.67" y="156.76"/><use href="#tri" x="515.61" y="160.27"/><use href="#tri" x="521.54" y="164.11"/><use href="#tri" x="527.48" y="167.96"/><use href="#tri" x="533.42" y="171.68"/><use href="#tri" x="539.35" y="175.40"/><use href="#tri" x="545.29" y="179.12"/><use href="#tri" x="551.22" y="182.87"/><use href="#tri" x="557.16" y="186.68"/><use href="#tri" x="563.10" y="190.54"/><use href="#tri" x="569.03" y="194.52"/><use href="#tri" x="574.97" y="198.44"/><use href="#tri" x="580.90" y="202.89"/><use href="#tri" x="586.84" y="209.25"/><use href="#tri" x="592.78" y="219.39"/><use href="#tri" x="598.71" y="235.84"/><use href="#tri" x="604.65" y="265.29"/><use href="#tri" x="349.40" y="81.80"/><use href="#tri" x="355.34" y="81.96"/><use href="#tri" x="361.27" y="82.13"/><use href="#tri" x="367.21" y="82.30"/><use href="#tri" x="373.14" y="82.49"/><use href="#tri" x="379.08" y="82.68"/><use href="#tri" x="385.02" y="82.88"/><use href="#tri" x="390.95" y="83.09"/><use href="#tri" x="396.89" y="83.31"/><use href="#tri" x="402.82" y="83.53"/><use href="#tri" x="408.76" y="83.75"/><use href="#tri" x="414.70" y="83.98"/><use href="#tri" x="420.63" y="84.21"/><use href="#tri" x="426.57" y="84.45"/><use href="#tri" x="432.50" y="84.71"/><use href="#tri" x="438.44" y="84.98"/><use href="#tri" x="444.38" y="85.28"/><use href="#tri" x="450.31" y="85.62"/><use href="#tri" x="456.25" y="86.00"/><use href="#tri" x="462.18" y="86.42"/><use href="#tri" x="468.12" y="86.89"/><use href="#tri" x="474.06" y="87.41"/><use href="#tri" x="479.99" y="87.97"/><use href="#tri" x="485.93" y="88.57"/><use href="#tri" x="491.86" y="89.20"/><use href="#tri" x="497.80" y="89.91"/><use href="#tri" x="503.74" y="90.71"/><use href="#tri" x="509.67" y="91.67"/><use href="#tri" x="515.61" y="92.88"/><use href="#tri" x="521.54" y="94.48"/><use href="#tri" x="527.48" y="96.23"/><use href="#tri" x="533.42" y="98.06"/><use href="#tri" x="539.35" y="100.05"/><use href="#tri" x="545.29" y="102.29"/><use href="#tri" x="551.22" y="104.91"/><use href="#tri" x="557.16" y="107.78"/><use href="#tri" x="563.10" y="110.88"/><use href="#tri" x="569.03" y="114.55"/><use href="#tri" x="574.97" y="119.11"/><use href="#tri" x="580.90" y="124.44"/><use href="#tri" x="586.84" y="133.57"/><use href="#tri" x="592.78" y="145.19"/><use href="#tri" x="598.71" y="165.05"/><use href="#tri" x="604.65" y="198.49"/><use href="#tri" x="610.58" y="259.56"/><use href="#tri" x="349.40" y="77.20"/><use href="#tri" x="355.34" y="77.25"/><use href="#tri" x="361.27" y="77.29"/><use href="#tri" x="367.21" y="77.35"/><use href="#tri" x="373.14" y="77.40"/><use href="#tri" x="379.08" y="77.46"/><use href="#tri" x="385.02" y="77.52"/><use href="#tri" x="390.95" y="77.58"/><use href="#tri" x="396.89" y="77.65"/><use href="#tri" x="402.82" y="77.72"/><use href="#tri" x="408.76" y="77.79"/><use href="#tri" x="414.70" y="77.86"/><use href="#tri" x="420.63" y="77.92"/><use href="#tri" x="426.57" y="77.99"/><use href="#tri" x="432.50" y="78.07"/><use href="#tri" x="438.44" y="78.14"/><use href="#tri" x="444.38" y="78.23"/><use href="#tri" x="450.31" y="78.32"/><use href="#tri" x="456.25" y="78.42"/><use href="#tri" x="462.18" y="78.53"/><use href="#tri" x="468.12" y="78.66"/><use href="#tri" x="474.06" y="78.81"/><use href="#tri" x="479.99" y="79.01"/><use href="#tri" x="485.93" y="79.25"/><use href="#tri" x="491.86" y="79.53"/><use href="#tri" x="497.80" y="79.82"/><use href="#tri" x="503.74" y="80.13"/><use href="#tri" x="509.67" y="80.44"/><use href="#tri" x="515.61" y="80.76"/><use href="#tri" x="521.54" y="81.11"/><use href="#tri" x="527.48" y="81.50"/><use href="#tri" x="533.42" y="81.97"/><use href="#tri" x="539.35" y="82.53"/><use href="#tri" x="545.29" y="83.38"/><use href="#tri" x="551.22" y="84.60"/><use href="#tri" x="557.16" y="85.85"/><use href="#tri" x="563.10" y="87.07"/><use href="#tri" x="569.03" y="88.45"/><use href="#tri" x="574.97" y="90.13"/><use href="#tri" x="580.90" y="92.35"/><use href="#tri" x="586.84" y="96.74"/><use href="#tri" x="592.78" y="104.85"/><use href="#tri" x="598.71" y="119.32"/><use href="#tri" x="604.65" y="151.49"/><use href="#tri" x="610.58" y="207.55"/>
<!-- legend -->
<g stroke-width="2">
<line x1="376" y1="195.2" x2="402.3" y2="195.2" stroke="#1f86e0"/>
<line x1="376" y1="214.8" x2="402.3" y2="214.8" stroke="#b212bd"/>
<line x1="376" y1="234.4" x2="402.3" y2="234.4" stroke="#ee1010"/>
</g>
<use href="#tri" x="389.3" y="195.2"/><use href="#tri" x="389.3" y="214.8"/><use href="#tri" x="389.3" y="234.4"/>
<g font-size="11.4" font-weight="bold" fill="#1a1a1a">
<text x="408" y="199">N<tspan dy="2.4">t</tspan><tspan dy="-2.4"> = 10</tspan><tspan font-family="'Liberation Sans', sans-serif" font-size="9.9" letter-spacing="-0.5" dx="-0.5" dy="-3.1">14</tspan><tspan dy="3.1"> cm</tspan><tspan font-family="'Liberation Sans', sans-serif" font-size="9.5" letter-spacing="-0.2" dy="-3.1">-3</tspan></text>
<text x="408" y="218.6">N<tspan dy="2.4">t</tspan><tspan dy="-2.4"> = 10</tspan><tspan font-family="'Liberation Sans', sans-serif" font-size="9.9" letter-spacing="-0.5" dx="-0.5" dy="-3.1">15</tspan><tspan dy="3.1">cm</tspan><tspan font-family="'Liberation Sans', sans-serif" font-size="9.5" letter-spacing="-0.2" dy="-3.1">-3</tspan></text>
<text x="408" y="238.2">N<tspan dy="2.4">t</tspan><tspan dy="-2.4"> = 10</tspan><tspan font-family="'Liberation Sans', sans-serif" font-size="9.9" letter-spacing="-0.5" dx="-0.5" dy="-3.1">16</tspan><tspan dy="3.1">cm</tspan><tspan font-family="'Liberation Sans', sans-serif" font-size="9.5" letter-spacing="-0.2" dy="-3.1">-3</tspan></text>
</g>
</svg>
</body></html>
